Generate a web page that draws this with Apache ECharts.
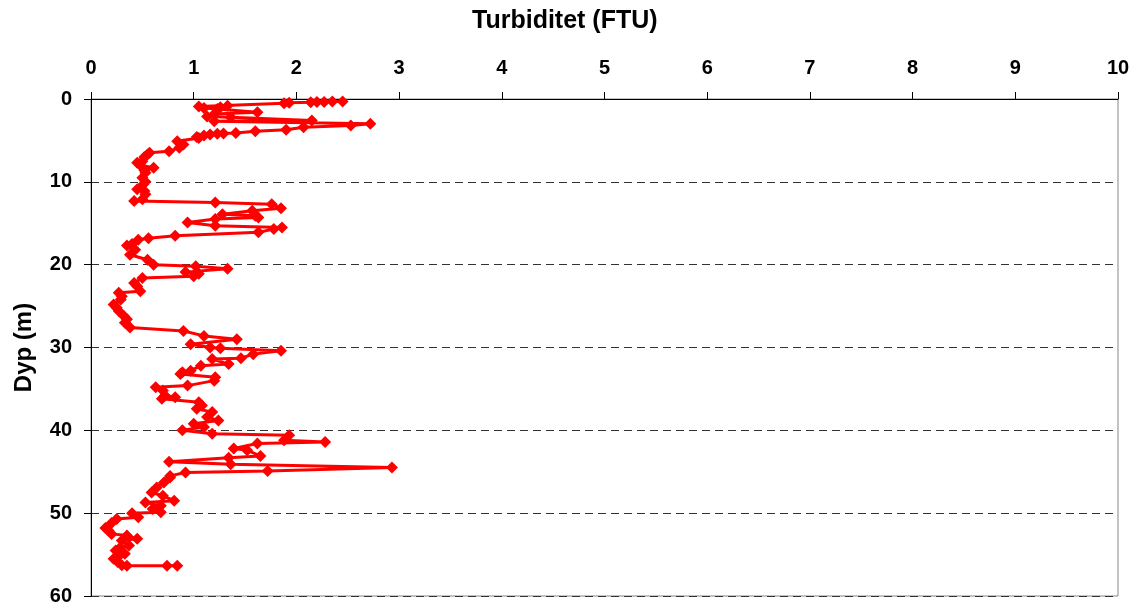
<!DOCTYPE html>
<html><head><meta charset="utf-8">
<script src="https://cdn.jsdelivr.net/npm/echarts@6/dist/echarts.min.js"></script>
<style>html,body{margin:0;padding:0;background:#fff}#c{width:1139px;height:612px}</style>
</head><body><div id="c"></div>
<script>
const xTitle = 'Turbiditet (FTU)';
const yTitle = 'Dyp (m)';
const depth = [0.3,0.3,0.35,0.35,0.4,0.45,0.5,0.9,0.8,1.0,1.1,1.2,1.6,1.8,2.1,2.2,2.6,2.7,3.0,3.2,3.4,3.7,3.9,4.1,4.15,4.2,4.3,4.4,4.6,4.7,5.1,5.5,5.9,6.3,6.5,6.7,7.0,7.5,7.7,8.0,8.3,8.6,8.9,9.5,10.0,10.3,10.9,11.1,11.5,12.1,12.3,12.5,12.7,13.2,13.5,13.9,14.1,14.3,14.5,14.9,15.3,15.5,15.7,16.1,16.5,16.8,17.0,17.5,17.7,18.2,18.8,19.4,20.0,20.2,20.5,20.9,21.1,21.4,21.6,22.2,22.6,23.2,23.4,23.8,24.2,24.8,25.2,25.6,26.2,26.6,27.0,27.6,28.0,28.6,29.0,29.6,30.0,30.1,30.4,30.8,31.3,31.4,32.0,32.2,32.8,33.0,33.2,33.6,34.0,34.6,34.8,35.2,35.8,36.0,36.2,36.6,37.0,37.4,37.8,38.4,38.8,39.2,39.6,40.0,40.4,40.6,41.2,41.4,41.6,42.2,42.4,43.1,43.3,43.8,44.1,44.5,44.9,45.1,45.5,45.7,46.3,46.9,47.5,47.9,48.5,48.7,49.1,49.5,49.9,50.0,50.5,50.7,51.2,51.8,52.1,52.5,52.7,53.1,53.3,53.9,54.2,54.5,54.9,55.2,55.5,55.9,56.3,56.35,56.35,56.35];
const turbidity = [2.45,2.35,2.27,2.20,2.14,1.93,1.88,1.05,1.33,1.26,1.10,1.23,1.62,1.20,1.13,1.36,2.15,1.20,2.72,2.53,2.07,1.90,1.60,1.41,1.29,1.23,1.16,1.10,1.03,1.05,0.84,0.90,0.86,0.76,0.57,0.55,0.52,0.50,0.45,0.48,0.61,0.52,0.53,0.50,0.53,0.51,0.45,0.52,0.53,0.50,0.42,1.21,1.76,1.85,1.57,1.28,1.60,1.63,1.21,0.94,1.21,1.86,1.78,1.63,0.82,0.56,0.46,0.40,0.35,0.43,0.38,0.55,0.61,1.02,1.33,0.92,1.05,1.00,0.50,0.42,0.45,0.48,0.27,0.30,0.29,0.22,0.25,0.27,0.32,0.35,0.33,0.38,0.90,1.10,1.42,0.97,1.16,1.26,1.85,1.58,1.46,1.18,1.34,1.07,0.97,0.89,0.87,1.21,1.20,0.94,0.63,0.70,0.72,0.82,0.69,1.05,1.08,1.03,1.18,1.13,1.24,1.00,1.10,0.89,1.18,1.93,1.88,2.28,1.62,1.39,1.52,1.65,1.34,0.76,1.36,2.93,1.72,0.92,0.77,0.77,0.71,0.64,0.59,0.70,0.81,0.53,0.68,0.60,0.68,0.40,0.46,0.25,0.20,0.14,0.17,0.20,0.35,0.45,0.30,0.37,0.28,0.24,0.33,0.27,0.22,0.26,0.30,0.35,0.74,0.84];
const xTicks = [0,1,2,3,4,5,6,7,8,9,10];
const yTicks = [0,10,20,30,40,50,60];

const chart = echarts.init(document.getElementById('c'), null, {renderer:'canvas'});
const font = 'Arial, "Liberation Sans", sans-serif';
chart.setOption({
  animation:false,
  backgroundColor:'#fff',
  graphic:[{type:'text',left:472,top:9,style:{text:xTitle,font:'bold 25px '+font,fill:'#000'}}],
  grid:{left:91,top:99,right:21,bottom:16,containLabel:false,outerBoundsMode:'none',show:true,borderColor:'#888',borderWidth:1,backgroundColor:'transparent'},
  xAxis:{type:'value',position:'top',min:xTicks[0],max:xTicks[xTicks.length-1],interval:1,
    axisLine:{show:true,onZero:false,lineStyle:{color:'#000',width:1}},
    axisTick:{show:true,inside:false,length:7,lineStyle:{color:'#000'}},
    axisLabel:{fontFamily:font,fontWeight:'bold',fontSize:20,color:'#000',margin:21},
    splitLine:{show:false}},
  yAxis:{type:'value',inverse:true,min:yTicks[0],max:yTicks[yTicks.length-1],interval:10,
    name:yTitle,nameLocation:'middle',nameGap:55,nameRotate:90,
    nameTextStyle:{fontFamily:font,fontWeight:'bold',fontSize:24,color:'#000'},
    axisLine:{show:true,onZero:false,lineStyle:{color:'#000',width:1}},
    axisTick:{show:true,inside:false,length:7,lineStyle:{color:'#000'}},
    axisLabel:{fontFamily:font,fontWeight:'bold',fontSize:20,color:'#000',margin:19},
    splitLine:{show:true,lineStyle:{color:'#333',type:[8,5],width:1}}},
  series:[{type:'line',data:turbidity.map((v,i)=>[v,depth[i]]),
    symbol:'diamond',symbolSize:12,showAllSymbol:true,
    itemStyle:{color:'#ff0000'},lineStyle:{color:'#ff0000',width:3}}]
});
</script></body></html>
